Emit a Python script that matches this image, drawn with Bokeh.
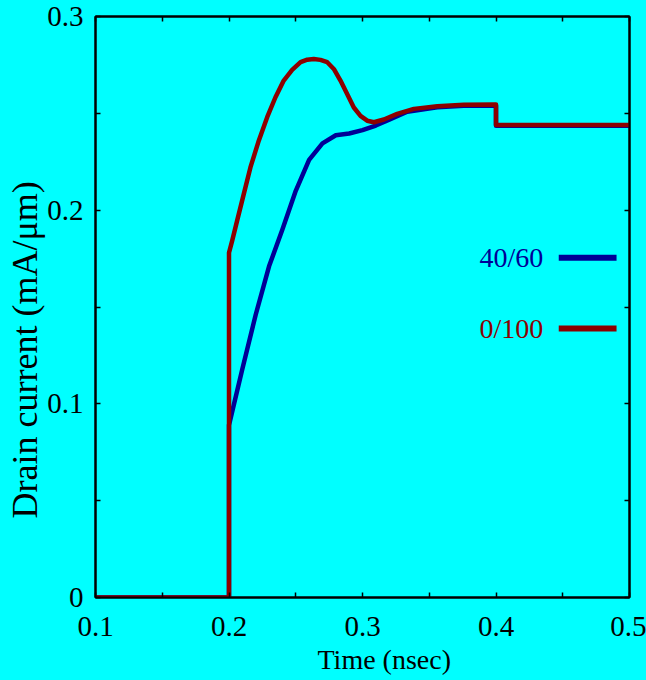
from bokeh.plotting import figure
from bokeh.models import FixedTicker, LinearAxis, Range1d, Title, InlineStyleSheet
from bokeh.core.properties import value
from bokeh.embed import file_html
from bokeh.resources import INLINE

# ---- data ----
time_0_100 = [0.1, 0.2, 0.2, 0.2024, 0.2061, 0.2111, 0.2161, 0.2223, 0.2286, 0.2348,
              0.2410, 0.2473, 0.2536, 0.2586, 0.2635, 0.2685, 0.2736, 0.2785, 0.2835,
              0.2885, 0.2935, 0.2985, 0.3035, 0.3085, 0.3160, 0.3260, 0.3385, 0.3560,
              0.3759, 0.4, 0.4, 0.5]
current_0_100 = [0.0, 0.0, 0.178, 0.1843, 0.1946, 0.2084, 0.2222, 0.2359, 0.2480, 0.2583,
                 0.2669, 0.2724, 0.2764, 0.2777, 0.2781, 0.2776, 0.2764, 0.2729, 0.2669,
                 0.2600, 0.2530, 0.2487, 0.2462, 0.2454, 0.2468, 0.2497, 0.2523, 0.2536,
                 0.2544, 0.2545, 0.244, 0.244]

time_40_60 = [0.1, 0.2, 0.2, 0.21, 0.22, 0.23, 0.24, 0.25, 0.26, 0.27, 0.28, 0.29,
              0.30, 0.31, 0.32, 0.3335, 0.3560, 0.3759, 0.4, 0.4, 0.5]
current_40_60 = [0.0, 0.0, 0.089, 0.118, 0.146, 0.171, 0.190, 0.210, 0.226, 0.2345,
                 0.2387, 0.2396, 0.2413, 0.2437, 0.2467, 0.2508, 0.2531, 0.2539, 0.2540,
                 0.2436, 0.2436]

series_names = ["40/60", "0/100"]
series_colors = ["#000096", "#8c0000"]

x_ticks = [0.1, 0.2, 0.3, 0.4, 0.5]
x_minor_ticks = [0.15, 0.25, 0.35, 0.45]
x_tick_labels = ["0.1", "0.2", "0.3", "0.4", "0.5"]
y_ticks = [0.0, 0.1, 0.2, 0.3]
y_minor_ticks = [0.05, 0.15, 0.25]
y_tick_labels = ["0", "0.1", "0.2", "0.3"]

x_title = "Time (nsec)"
y_title = "Drain current (mA/\u03bcm)"

# ---- layout / style constants ----
FONT = "Liberation Serif"
CYAN = "#00ffff"

p = figure(width=646, height=680,
           x_range=Range1d(0.1, 0.5), y_range=Range1d(0.0, 0.3),
           output_backend="svg", toolbar_location=None,
           min_border_left=95, min_border_right=17,
           min_border_top=16, min_border_bottom=83,
           background_fill_color=CYAN, border_fill_color=CYAN,
           outline_line_color="black", outline_line_width=2)
p.styles = {"background-color": CYAN}
p.stylesheets = [InlineStyleSheet(css=":host { background-color: #00ffff; } "
                                      ".bk-Canvas, .bk-Canvas * { background-color: #00ffff; }")]
p.grid.visible = False


def style_axis(ax, show_labels):
    ax.axis_line_color = "black"
    ax.axis_line_width = 2
    ax.major_tick_in = 5
    ax.major_tick_out = 0
    ax.minor_tick_in = 5
    ax.minor_tick_out = 0
    ax.major_tick_line_color = "black"
    ax.minor_tick_line_color = "black"
    ax.major_tick_line_width = 1.5
    ax.minor_tick_line_width = 1.5
    ax.major_label_text_font = FONT
    ax.major_label_text_color = "black"
    if show_labels:
        ax.major_label_text_font_size = "29px"
    else:
        ax.major_label_text_font_size = "0px"
        ax.major_label_standoff = 0


xa = p.xaxis[0]
xa.ticker = FixedTicker(ticks=x_ticks, minor_ticks=x_minor_ticks)
xa.major_label_overrides = {t: s for t, s in zip(x_ticks, x_tick_labels)}
style_axis(xa, True)
xa.major_label_standoff = 19

ya = p.yaxis[0]
ya.ticker = FixedTicker(ticks=y_ticks, minor_ticks=y_minor_ticks)
ya.major_label_overrides = {t: s for t, s in zip(y_ticks, y_tick_labels)}
style_axis(ya, True)
ya.major_label_standoff = 12

top = LinearAxis(ticker=FixedTicker(ticks=x_ticks, minor_ticks=x_minor_ticks))
style_axis(top, False)
p.add_layout(top, "above")
right = LinearAxis(ticker=FixedTicker(ticks=y_ticks, minor_ticks=y_minor_ticks))
style_axis(right, False)
p.add_layout(right, "right")

# curves
p.line(time_40_60, current_40_60, line_color=series_colors[0], line_width=4.5, line_join="round")
p.line(time_0_100, current_0_100, line_color=series_colors[1], line_width=4.5, line_join="round")

# legend (text left of the line sample)
leg_x0, leg_x1 = 0.447, 0.4903
leg_text_x = 0.4354
leg_y = [0.1754, 0.1389]
for name, col, yy in zip(series_names, series_colors, leg_y):
    p.line([leg_x0, leg_x1], [yy, yy], line_color=col, line_width=6)
    p.text(x=[leg_text_x], y=[yy], text=[name], text_color=col,
           text_font=value(FONT), text_font_size="28px",
           text_align="right", text_baseline="middle")

# axis titles as side titles (offset from the frame's start)
p.add_layout(Title(text=x_title, align="left", offset=222, text_font=FONT,
                   text_font_size="28px", text_font_style="normal",
                   text_color="black", standoff=6), "below")
p.add_layout(Title(text=y_title, align="left", offset=79, text_font=FONT,
                   text_font_size="36px", text_font_style="normal",
                   text_color="black", standoff=0), "left")

html = file_html(p, INLINE)
html = html.replace("<body>", '<body style="margin:0;background:#00ffff;">', 1)
open("out.html", "w").write(html)
